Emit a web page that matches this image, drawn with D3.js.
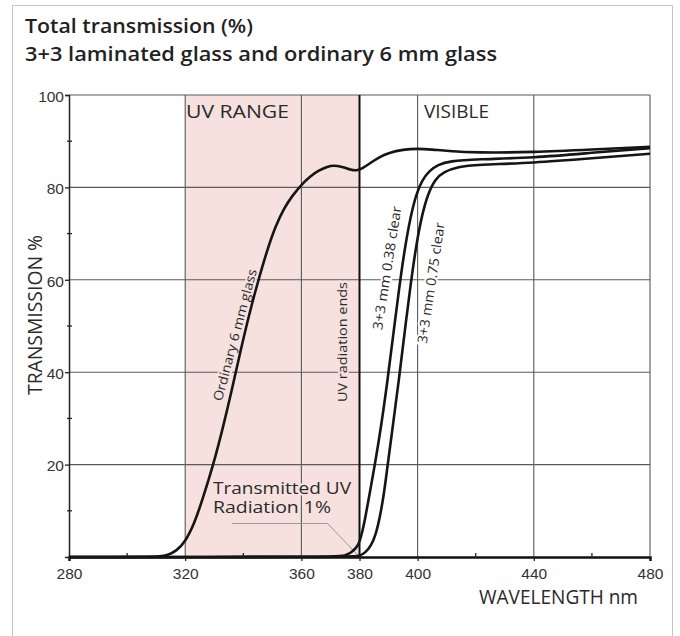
<!DOCTYPE html>
<html><head><meta charset="utf-8">
<script src="https://cdn.jsdelivr.net/npm/d3@7"></script>
<style>body{margin:0;background:#fff}svg{display:block}</style>
</head><body>
<svg id="c" width="680" height="636"></svg>
<script>
// ---- data ----
const xMajorTicks = [280, 320, 360, 380, 400, 440, 480];
const xMinorTicks = [300, 340, 420, 460];
const yMajorTicks = [20, 40, 60, 80, 100];
const yMinorTicks = [10, 30, 50, 70, 90];
const xGrid = [320, 360, 400, 440, 480];
const yGrid = [20, 40, 60, 80, 100];
const uvRange = [320, 380];

const glass6Wl = [280, 308, 311, 314, 317, 320, 323, 326, 329.7, 333, 336, 339, 342, 345, 348, 351, 354, 357, 360, 363, 366, 369, 371, 374, 377, 379, 381, 384, 387, 390, 395, 400, 405, 410, 420, 440, 460, 480];
const glass6T  = [0, 0, 0.1, 0.4, 1.3, 3.3, 7, 12.5, 20, 28, 36, 44.5, 52.5, 59.5, 66, 71.5, 75.5, 78.3, 80.6, 82.4, 83.7, 84.5, 84.8, 84.5, 83.8, 83.6, 84.1, 85.4, 86.6, 87.5, 88.2, 88.4, 88.2, 87.9, 87.5, 87.6, 88.2, 88.8];

const lam038Wl = [280, 372, 375, 377, 379, 380, 381, 382, 383, 384, 385.3, 387.5, 389.5, 391.5, 393.6, 395.5, 397.5, 399.5, 401.5, 404, 407, 411, 420, 440, 460, 480];
const lam038T  = [0, 0, 0.3, 0.9, 2, 3.2, 5.5, 8.5, 12, 15.5, 20, 28.5, 37.5, 47.5, 58, 66.5, 73.5, 78.5, 81.5, 83.6, 84.9, 85.7, 86.1, 86.4, 87.5, 88.5];

const lam075Wl = [280, 377, 380, 382, 384, 385.5, 387, 388.5, 389.5, 391.5, 393.6, 395.5, 397.6, 399.5, 401.5, 403.5, 406, 409, 414, 420, 440, 460, 480];
const lam075T  = [0, 0, 0.2, 0.9, 2.5, 4.6, 8.5, 14, 19, 28.5, 38.5, 48.5, 59, 67.5, 74, 78.5, 81.8, 83.4, 84.5, 84.9, 85.3, 86.3, 87.3];

// ---- drawing ----
const svg = d3.select('#c');
const x = d3.scaleLinear([280, 480], [69, 650]);
const y = d3.scaleLinear([0, 100], [557, 95]);
const pink = '#f6e1df';
const grid = '#5a5a5a';
const txt = '#2a2a2a';
const sans = "'Open Sans', 'Noto Sans', sans-serif";
const arial = "'Liberation Sans', Arial, sans-serif";

// outer frame
svg.append('rect').attr('x', 12.5).attr('y', 5.5).attr('width', 660).attr('height', 700)
  .attr('fill', 'none').attr('stroke', '#c4c4c4').attr('stroke-width', 1);

// titles
svg.append('text').attr('x', 25).attr('y', 33).text('Total transmission (%)')
  .attr('font-family', sans).attr('font-weight', 600).attr('font-size', 20.5).attr('fill', '#222')
  .attr('textLength', 228).attr('lengthAdjust', 'spacingAndGlyphs');
svg.append('text').attr('x', 25).attr('y', 61).text('3+3 laminated glass and ordinary 6 mm glass')
  .attr('font-family', sans).attr('font-weight', 600).attr('font-size', 20.5).attr('fill', '#222')
  .attr('textLength', 472).attr('lengthAdjust', 'spacingAndGlyphs');

// UV band
svg.append('rect').attr('x', x(uvRange[0])).attr('y', y(100))
  .attr('width', x(uvRange[1]) - x(uvRange[0])).attr('height', y(0) - y(100)).attr('fill', pink);

// grid
const g = svg.append('g');
g.selectAll('line.hg').data(yGrid).join('line')
  .attr('x1', x(280)).attr('x2', x(480)).attr('y1', d => y(d)).attr('y2', d => y(d))
  .attr('stroke', grid).attr('stroke-width', 1.1);
g.selectAll('line.vg').data(xGrid).join('line')
  .attr('x1', d => x(d)).attr('x2', d => x(d)).attr('y1', y(0)).attr('y2', y(100))
  .attr('stroke', grid).attr('stroke-width', 1.1);

// annotation labels with halo (knocks out grid)
function label(t, cx, cy, ang, len, size, halo) {
  svg.append('text').attr('transform', `translate(${cx},${cy}) rotate(${ang})`)
    .attr('text-anchor', 'middle').attr('dy', '0.35em')
    .attr('font-family', sans).attr('font-size', size).attr('fill', txt)
    .attr('stroke', halo).attr('stroke-width', 4).attr('paint-order', 'stroke')
    .attr('textLength', len).attr('lengthAdjust', 'spacingAndGlyphs').text(t);
}
label('Ordinary 6 mm glass', 235, 335, -75, 136, 13, pink);
label('UV radiation ends', 342, 342, -90, 120, 13, pink);
label('3+3 mm 0.38 clear', 387, 268, -81, 125, 13.5, '#fff');
label('3+3 mm 0.75 clear', 431, 283, -81.5, 122, 13.5, '#fff');

// UV line at 380
svg.append('line').attr('x1', x(380)).attr('x2', x(380)).attr('y1', y(0)).attr('y2', y(100))
  .attr('stroke', '#111').attr('stroke-width', 2);

// region labels
svg.append('text').attr('x', 186).attr('y', 118).text('UV RANGE')
  .attr('font-family', sans).attr('font-size', 18).attr('fill', txt)
  .attr('textLength', 103).attr('lengthAdjust', 'spacingAndGlyphs');
svg.append('text').attr('x', 424).attr('y', 118).text('VISIBLE')
  .attr('font-family', sans).attr('font-size', 18).attr('fill', txt)
  .attr('textLength', 65).attr('lengthAdjust', 'spacingAndGlyphs');

// Transmitted UV annotation
[['Transmitted UV', 494, 138], ['Radiation 1%', 513, 118]].forEach(([t, yy, len]) => {
  svg.append('text').attr('x', 213).attr('y', yy).text(t)
    .attr('font-family', sans).attr('font-size', 17).attr('fill', txt)
    .attr('stroke', pink).attr('stroke-width', 4).attr('paint-order', 'stroke')
    .attr('textLength', len).attr('lengthAdjust', 'spacingAndGlyphs');
});
svg.append('path').attr('d', `M232,523.5 L${x(369)},523.5 L${x(379.3)},${y(0.5)}`)
  .attr('fill', 'none').attr('stroke', '#9a9a9a').attr('stroke-width', 1);

// axes
const xAxis = svg.append('g').attr('transform', `translate(0,${y(0)})`)
  .call(d3.axisBottom(x).tickValues(xMajorTicks).tickSize(4).tickPadding(7).tickFormat(d3.format('d')));
xAxis.select('.domain').attr('stroke', '#111').attr('stroke-width', 2.5);
xAxis.selectAll('.tick line').attr('stroke', '#222').attr('stroke-width', 1.3);
xAxis.selectAll('text').attr('font-family', arial).attr('font-size', 15.5).attr('fill', '#333');

const yAxis = svg.append('g').attr('transform', `translate(${x(280)},0)`)
  .call(d3.axisLeft(y).tickValues(yMajorTicks).tickSize(4).tickPadding(1));
yAxis.select('.domain').attr('stroke', '#222').attr('stroke-width', 1.5);
yAxis.selectAll('.tick line').attr('stroke', '#222').attr('stroke-width', 1.3);
yAxis.selectAll('text').attr('font-family', arial).attr('font-size', 15.5).attr('fill', '#333').attr('dy', '0.4em');

svg.selectAll('line.xm').data(xMinorTicks).join('line')
  .attr('x1', d => x(d)).attr('x2', d => x(d)).attr('y1', y(0) - 4).attr('y2', y(0) + 1)
  .attr('stroke', '#222').attr('stroke-width', 1.3);
svg.selectAll('line.ym').data(yMinorTicks).join('line')
  .attr('x1', x(280) - 2).attr('x2', x(280) + 3).attr('y1', d => y(d)).attr('y2', d => y(d))
  .attr('stroke', '#222').attr('stroke-width', 1.3);

// curves
const line = d3.line().x(d => x(d[0])).y(d => y(d[1])).curve(d3.curveBasis);
[[glass6Wl, glass6T], [lam038Wl, lam038T], [lam075Wl, lam075T]].forEach(([w, t]) => {
  svg.append('path').attr('d', line(d3.zip(w, t)))
    .attr('fill', 'none').attr('stroke', '#151515').attr('stroke-width', 2.6)
    .attr('stroke-linejoin', 'round');
});

// axis titles
svg.append('text').attr('transform', `translate(42,315) rotate(-90)`).attr('text-anchor', 'middle')
  .attr('font-family', sans).attr('font-size', 19.5).attr('fill', txt)
  .attr('textLength', 160).attr('lengthAdjust', 'spacingAndGlyphs').text('TRANSMISSION %');
svg.append('text').attr('x', 479).attr('y', 604).text('WAVELENGTH nm')
  .attr('font-family', sans).attr('font-size', 20).attr('fill', txt)
  .attr('textLength', 159).attr('lengthAdjust', 'spacingAndGlyphs');
</script>
</body></html>
